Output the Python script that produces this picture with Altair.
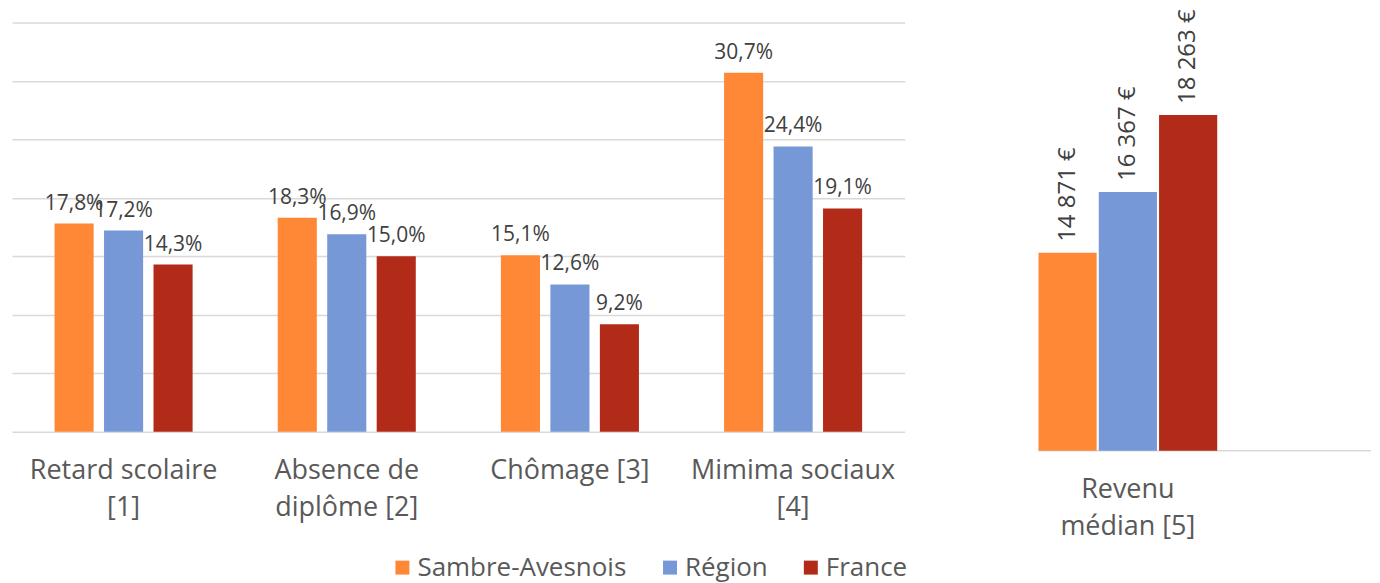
import altair as alt
import pandas as pd

FONT = "Open Sans"

categories = ["Retard scolaire|[1]", "Absence de|diplôme [2]", "Chômage [3]", "Mimima sociaux|[4]"]
series = ["Sambre-Avesnois", "Région", "France"]
sambre = [17.8, 18.3, 15.1, 30.7]
region = [17.2, 16.9, 12.6, 24.4]
france = [14.3, 15.0, 9.2, 19.1]
income_category = "Revenu|médian [5]"
income_values = [14871, 16367, 18263]
colors = ["#FF8837", "#7698D6", "#B22B18"]
pct_ticks = [0, 5, 10, 15, 20, 25, 30, 35]

rows = []
for s, vals in zip(series, [sambre, region, france]):
    for c, v in zip(categories, vals):
        rows.append({"category": c, "series": s, "value": v,
                     "label": f"{v:.1f}".replace(".", ",") + "%"})
df_pct = pd.DataFrame(rows)

df_inc = pd.DataFrame({
    "category": [income_category] * 3,
    "series": series,
    "value": income_values,
    "label": [f"{v:,}".replace(",", " ") + " €" for v in income_values],
})

color = alt.Color(
    "series:N",
    scale=alt.Scale(domain=series, range=colors),
    sort=series,
    legend=alt.Legend(
        title=None, orient="none", direction="horizontal",
        legendX=378, legendY=533,
        labelFontSize=26, labelFont=FONT, labelColor="#595959", labelLimit=0,
        symbolType="square", symbolSize=196, symbolStrokeWidth=0,
        columnPadding=30, labelOffset=2,
    ),
)

x_axis = dict(title=None, labelAngle=0, labelExpr="split(datum.label, '|')",
              labelFontSize=27, labelFont=FONT, labelColor="#595959", labelLimit=0,
              labelLineHeight=37, labelPadding=26, domain=False, ticks=False)

# Left panel
x_left = alt.X("category:N", sort=categories,
               scale=alt.Scale(paddingInner=0, paddingOuter=0),
               axis=alt.Axis(**x_axis))
xo_left = alt.XOffset("series:N", sort=series,
                      scale=alt.Scale(paddingInner=0.21, paddingOuter=0.86))
y_left = alt.Y("value:Q", scale=alt.Scale(domain=[0, 35]),
               axis=alt.Axis(title=None, labels=False, ticks=False, domain=False,
                             values=pct_ticks, gridColor="#d9d9d9", gridWidth=1.5))

base_left = alt.Chart(df_pct).encode(x=x_left, xOffset=xo_left, y=y_left)
bars_left = base_left.mark_bar().encode(color=color)
text_left = base_left.mark_text(font=FONT, fontSize=21, color="#404040",
                                baseline="alphabetic", dy=-14).encode(text="label:N")
left = (bars_left + text_left).properties(width=894, height=410)

# Right panel
x_right = alt.X("category:N",
                scale=alt.Scale(paddingInner=0, paddingOuter=0),
                axis=alt.Axis(**x_axis))
xo_right = alt.XOffset("series:N", sort=series,
                       scale=alt.Scale(paddingInner=0.035, paddingOuter=0))
y_scale_r = alt.Scale(domain=[10000, 20540], zero=False)
y_right = alt.Y("value:Q", scale=y_scale_r, axis=None)

base_right = alt.Chart(df_inc).encode(x=x_right, xOffset=xo_right, y=y_right)
bars_right = base_right.mark_bar().encode(color=color, y2=alt.datum(10000))
text_right = base_right.mark_text(font=FONT, fontSize=24, color="#404040",
                                  angle=270, align="left", baseline="middle",
                                  dx=11).encode(text="label:N")
rule_right = alt.Chart(pd.DataFrame({"v": [10000]})).mark_rule(
    color="#d9d9d9", strokeWidth=1.5
).encode(y=alt.Y("v:Q", scale=y_scale_r, axis=None),
         x=alt.value(0), x2=alt.value(333))
right = (rule_right + bars_right + text_right).properties(width=179, height=429)

chart = alt.hconcat(left, right, spacing=133).resolve_scale(
    xOffset="independent", x="independent", y="independent"
).properties(
    padding={"left": 4, "top": 0, "right": 0, "bottom": 12}
).configure(font=FONT).configure_view(stroke=None)

chart.save("out.html", embed_options={"renderer": "svg", "actions": False})
